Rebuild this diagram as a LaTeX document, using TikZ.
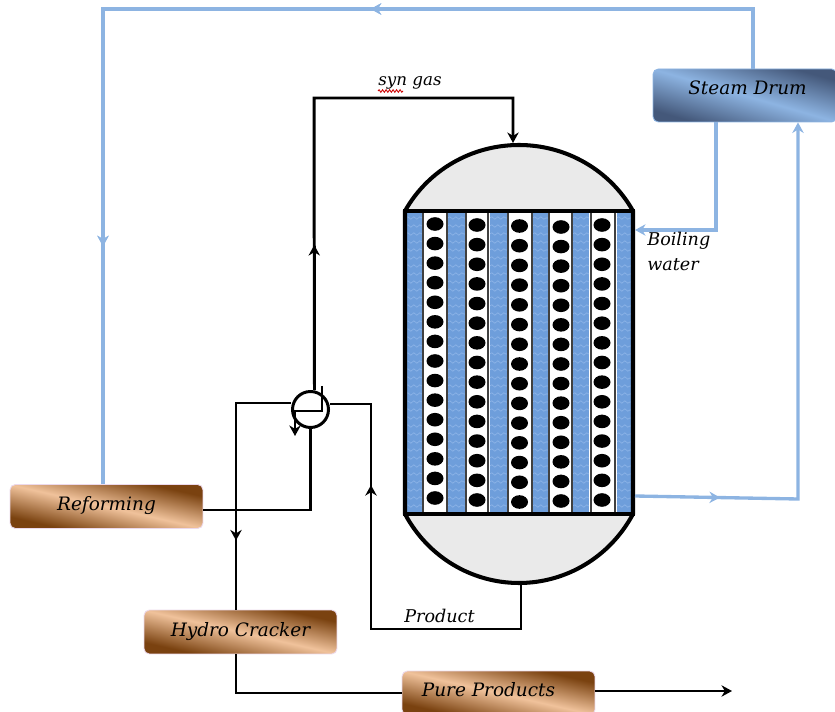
\documentclass[tikz,border=0pt]{standalone}
\usepackage{fontspec}
\setmainfont{DejaVu Serif}
\usetikzlibrary{arrows.meta,decorations.pathmorphing,decorations.markings}
\definecolor{pipeblue}{HTML}{8DB4E2}
\definecolor{waterblue}{HTML}{6E9EDB}
\definecolor{waveblue}{HTML}{93B9EA}
\definecolor{domegrey}{HTML}{EAEAEA}
\definecolor{browndark}{HTML}{7A4210}
\definecolor{brownlight}{HTML}{F0C29B}
\definecolor{bluedark}{HTML}{44587A}
\pgfdeclareverticalshading{brownsweep}{100bp}{color(0bp)=(browndark); color(28bp)=(browndark); color(50bp)=(brownlight); color(72bp)=(browndark); color(100bp)=(browndark)}
\pgfdeclareverticalshading{bluesweep}{100bp}{color(0bp)=(bluedark); color(26bp)=(bluedark); color(50bp)=(pipeblue); color(74bp)=(bluedark); color(100bp)=(bluedark)}
\tikzset{
    blackpipe/.style={draw=black, line width=1.7pt},
    bluepipe/.style={draw=pipeblue, line width=1.9pt},
    midarrow/.style={postaction={decorate}, decoration={markings, mark=at position #1 with {\arrow{Stealth[length=6pt,width=6.5pt]}}}},
    unitbox/.style={rectangle, rounded corners=3pt, minimum width=3.86cm, minimum height=0.88cm, draw=#1, line width=0.5pt, text=black, font=\fontsize{10.5}{12}\selectfont\itshape},
    brownbox/.style={unitbox={violet!15}, shade, shading=brownsweep, shading angle=-12.8},
    bluebox/.style={unitbox=pipeblue, shade, shading=bluesweep, shading angle=-16},
    tag/.style={font=\fontsize{10}{12}\selectfont\itshape, inner sep=0pt, anchor=west},
}
\begin{document}
\begin{tikzpicture}[>={Stealth[length=6pt,width=6.5pt]}, x=0.02cm, y=-0.02cm]
        \useasboundingbox (0, 0) rectangle (835, 712);
        \clip (0, 0) rectangle (835, 712);

        % Units
        \node[bluebox, minimum width=3.68cm, minimum height=1.06cm] (steamdrum) at (745, 95.5) {\hspace*{0.1cm}\raisebox{0.3cm}{Steam Drum}};
        \node[brownbox] (reforming) at (106.5, 506.5) {\raisebox{0.14cm}{Reforming}};
        \node[brownbox] (hydrocracker) at (240.5, 632) {\raisebox{0.1cm}{Hydro Cracker}};
        \node[brownbox] (pureproducts) at (498.5, 693) {\hspace*{-0.4cm}\raisebox{0.16cm}{Pure Products}};

        % Reactor shell
        \node[draw=black, line width=2.3pt, minimum width=4.56cm, minimum height=6.06cm, inner sep=0pt] (reactor) at (519, 362.5) {};
        \coordinate (dometop) at (513, 143);
        \coordinate (domebottom) at (521, 583);
        \coordinate (waterin) at (635, 230);
        \coordinate (waterout) at (635, 496);
        \fill[domegrey] (405, 211) .. controls (428, 170) and (472, 145) .. (519, 145) .. controls (566, 145) and (610, 170) .. (633, 211) -- cycle;
        \fill[domegrey] (405, 514) .. controls (428, 557) and (472, 583) .. (519, 583) .. controls (566, 583) and (610, 557) .. (633, 514) -- cycle;

        % Cooling water channels
        \foreach \xa/\xb in {406/422, 448/465, 490/507, 533/548, 573/589, 617/632} {
            \fill[waterblue] (\xa, 212) rectangle (\xb, 513);
            \foreach \yy in {218, 226, ..., 511}
                \draw[waveblue, line width=0.3pt, decorate, decoration={snake, segment length=0.12cm, amplitude=0.025cm}] (\xa, \yy) -- (\xb, \yy);
        }

        % Catalyst tubes
        \foreach \xa/\xb/\xc/\ya/\yb in {423/447/435/224/498, 466/488/477/225/500, 508/532/519.5/226/502, 549/572/561/227/501, 591/615/602/225/500} {
            \filldraw[fill=white, draw=black!75, line width=0.9pt] (\xa, 212) rectangle (\xb, 513);
            \foreach \ii in {0, ..., 14}
                \fill[black] ({\xc}, {\ya + \ii*(\yb-\ya)/14}) ellipse [x radius=8.5, y radius=6.8];
        }

        % Shell outline and heads
        \draw[black, line width=2.3pt] (405, 514) -- (405, 211) .. controls (428, 170) and (472, 145) .. (519, 145) .. controls (566, 145) and (610, 170) .. (633, 211) -- (633, 514) .. controls (610, 557) and (566, 583) .. (519, 583) .. controls (472, 583) and (428, 557) .. (405, 514) -- cycle;
        \draw[black, line width=1.8pt] (405, 211) -- (633, 211);
        \draw[black, line width=1.8pt] (405, 514) -- (633, 514);

        % Heat exchanger
        \node[draw=black, circle, line width=1.7pt, minimum size=0.72cm, inner sep=0pt] (exchanger) at (310.5, 409.5) {};
        \coordinate (coilin) at (322, 386);
        \coordinate (coilbend) at (322, 411);
        \coordinate (coilturn) at (295, 411);
        \coordinate (coilout) at (295, 436);

        % Bends of the lines
        \coordinate (drumtop) at (753, 9);
        \coordinate (reformtop) at (103, 9);
        \coordinate (drumdown) at (716, 230);
        \coordinate (drumreturn) at (798, 499);
        \coordinate (syncorner) at (314, 98);
        \coordinate (synend) at (513, 98);
        \coordinate (crackerin) at (236, 403);
        \coordinate (crackerout) at (236, 693);
        \coordinate (productdown) at (521, 629);
        \coordinate (productcorner) at (371, 629);
        \coordinate (productin) at (371, 404);
        \coordinate (pureend) at (732, 691);

        % Water loop
        \draw[bluepipe, midarrow=8.84cm, midarrow=18.94cm] (steamdrum.north -| drumtop) -- (drumtop) -- (reformtop) -- (reforming.north -| reformtop);
        \draw[bluepipe, ->] (steamdrum.south -| drumdown) -- (drumdown) -- (waterin);
        \draw[bluepipe, midarrow=1.7cm, ->] (waterout) -- (drumreturn) -- (steamdrum.south -| drumreturn);

        % Process lines
        \draw[blackpipe, midarrow=2.9cm, ->] ([xshift=0.08cm]exchanger.north) -- (syncorner) -- (synend) -- (dometop);
        \draw[blackpipe, midarrow=3.85cm] (exchanger.west |- crackerin) -- (crackerin) -- (hydrocracker.north -| crackerin);
        \draw[blackpipe, midarrow=6.8cm] (domebottom) -- (productdown) -- (productcorner) -- (productin) -- (exchanger.east |- productin);
        \draw[blackpipe] ([yshift=-0.07cm]reforming.east) -| (exchanger.south);
        \draw[blackpipe] (hydrocracker.south -| crackerout) -- (crackerout) -- (pureproducts.west |- crackerout);
        \draw[blackpipe, ->] (pureproducts.east |- pureend) -- (pureend);
        \draw[blackpipe, ->] (coilin) -- (coilbend) -- (coilturn) -- (coilout);

        % Labels
        \node[tag, font=\fontsize{9.5}{12}\selectfont\itshape] (syngas) at (378, 83) {syn gas};
        \node[tag] (boiling) at (647, 241) {Boiling};
        \node[tag] (water) at (647, 265) {water};
        \node[tag] (product) at (404, 616) {Product};
        \coordinate (squigglea) at (378, 91);
        \coordinate (squiggleb) at (403, 91);
        \draw[red!80!black, line width=0.5pt, decorate, decoration={snake, segment length=0.07cm, amplitude=0.025cm}] (squigglea) -- (squiggleb);
    \end{tikzpicture}
\end{document}
